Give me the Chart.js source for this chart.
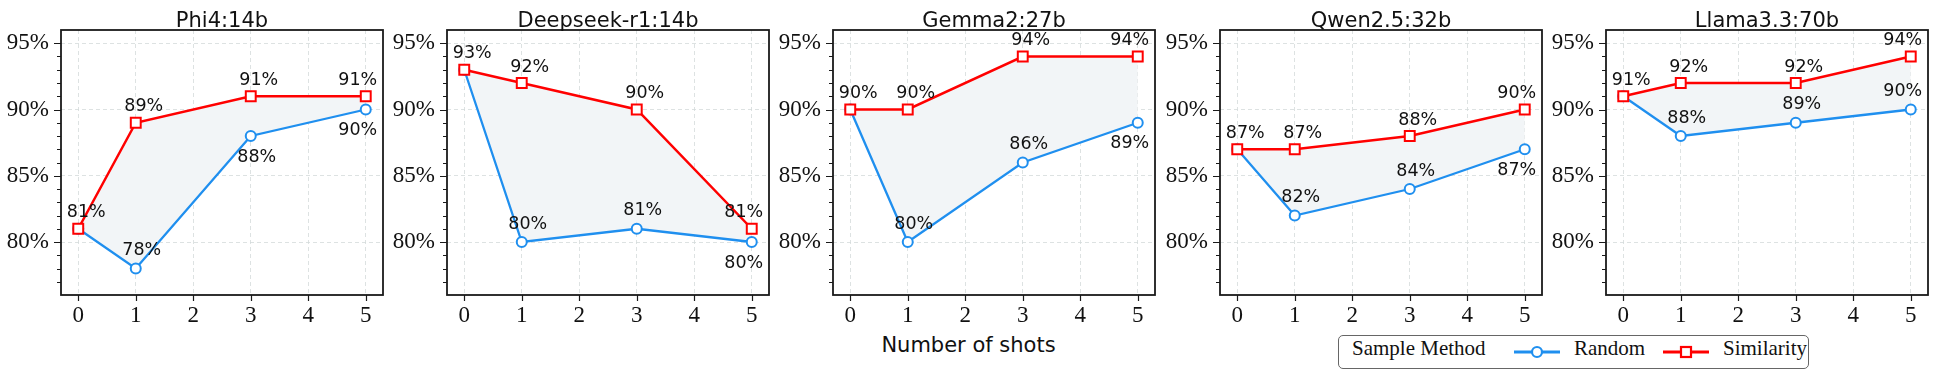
<!DOCTYPE html>
<html>
<head>
<meta charset="utf-8">
<script src="https://cdn.jsdelivr.net/npm/chart.js@4.4.1/dist/chart.umd.min.js"></script>
<style>
  body { margin: 0; background: #fff; width: 1937px; height: 380px; position: relative; overflow: hidden; }
  canvas.panel { position: absolute; top: 0; }
  #xtitle { position: absolute; left: 0; width: 1937px; top: 333px; text-align: center;
            font: 21px "DejaVu Sans"; line-height: 24px; color: #111; }
  #legend { position: absolute; left: 1338px; top: 335px; width: 469px; height: 32px;
            border: 1px solid #666; border-radius: 5px; background: #fff; }
  #legend span { position: absolute; top: 0; line-height: 32px; font: 21px "Liberation Serif"; color: #111; white-space: nowrap; }
  #legend svg { position: absolute; top: 9px; }
</style>
</head>
<body>
<div id="xtitle">Number of shots</div>
<div id="legend">
  <span style="left:13px">Sample Method</span>
  <svg style="left:175px" width="46" height="14"><line x1="0" y1="7" x2="46" y2="7" stroke="#1f8fef" stroke-width="3"/><circle cx="23" cy="7" r="5" fill="#fff" stroke="#1f8fef" stroke-width="2.2"/></svg>
  <span style="left:235px">Random</span>
  <svg style="left:324px" width="46" height="14"><line x1="0" y1="7" x2="46" y2="7" stroke="#ff0000" stroke-width="3"/><rect x="18" y="2" width="10" height="10" fill="#fff" stroke="#ff0000" stroke-width="2.2"/></svg>
  <span style="left:384px">Similarity</span>
</div>
<script>
const models = ['Phi4:14b', 'Deepseek-r1:14b', 'Gemma2:27b', 'Qwen2.5:32b', 'Llama3.3:70b'];
const shots = [0, 1, 3, 5];
const randomScores = [
    [81, 78, 88, 90],
    [93, 80, 81, 80],
    [90, 80, 86, 89],
    [87, 82, 84, 87],
    [91, 88, 89, 90],
];
const similarityScores = [
    [81, 89, 91, 91],
    [93, 92, 90, 81],
    [90, 90, 94, 94],
    [87, 87, 88, 90],
    [91, 92, 92, 94],
];
const xTicks = [0, 1, 2, 3, 4, 5];
const yTicks = [80, 85, 90, 95];
// which side of the point the Random label sits on
const randomLabelSide = [
    ['', 'up', 'down', 'down'],
    ['', 'up', 'up', 'down'],
    ['', 'up', 'up', 'down'],
    ['', 'up', 'up', 'down'],
    ['', 'up', 'up', 'up'],
];

const RED = '#ff0000';
const BLUE = '#1f8fef';
const plotLefts = [61, 447, 833, 1220, 1606];
const AXIS_W = 64;

const framePlugin = {
    id: 'frame',
    afterDraw(chart, args, opts) {
        const { ctx, chartArea: a, scales: { x, y } } = chart;
        ctx.save();
        ctx.strokeStyle = '#1a1a1a';
        ctx.lineWidth = 1.2;
        ctx.beginPath();
        for (let v = 77; v <= 95; v++) {
            const py = Math.round(y.getPixelForValue(v)) + 0.5;
            const len = yTicks.includes(v) ? 7 : 4;
            ctx.moveTo(a.left, py);
            ctx.lineTo(a.left - len, py);
        }
        xTicks.forEach((v) => {
            const px = Math.round(x.getPixelForValue(v)) + 0.5;
            ctx.moveTo(px, a.bottom);
            ctx.lineTo(px, a.bottom + 6);
        });
        ctx.stroke();
        ctx.lineWidth = 1.8;
        ctx.strokeRect(a.left, a.top, a.right - a.left, a.bottom - a.top);
        ctx.font = '21px "DejaVu Sans"';
        ctx.fillStyle = '#111';
        ctx.textAlign = 'center';
        ctx.textBaseline = 'alphabetic';
        ctx.fillText(opts.title, (a.left + a.right) / 2, 27);
        ctx.restore();
    },
};

const valueLabels = {
    id: 'valueLabels',
    afterDatasetsDraw(chart, args, opts) {
        const { ctx } = chart;
        ctx.save();
        ctx.font = '17.5px "DejaVu Sans"';
        ctx.fillStyle = '#111';
        ctx.textAlign = 'center';
        ctx.textBaseline = 'middle';
        const sim = chart.getDatasetMeta(0).data;
        const rnd = chart.getDatasetMeta(1).data;
        const simVals = chart.data.datasets[0].data;
        const rndVals = chart.data.datasets[1].data;
        const last = sim.length - 1;
        sim.forEach((p, i) => {
            const dx = i === last ? -8 : 8;
            ctx.fillText(simVals[i].y + '%', p.x + dx, p.y - 16);
        });
        rnd.forEach((p, i) => {
            const side = opts.sides[i];
            if (!side) return;
            const dx = i === last ? -8 : 6;
            const dy = side === 'up' ? -18 : 21;
            ctx.fillText(rndVals[i].y + '%', p.x + dx, p.y + dy);
        });
        ctx.restore();
    },
};

models.forEach((name, k) => {
    const canvas = document.createElement('canvas');
    canvas.className = 'panel';
    canvas.width = AXIS_W + 322 + 14;
    canvas.height = 330;
    canvas.style.left = (plotLefts[k] - AXIS_W) + 'px';
    document.body.appendChild(canvas);

    new Chart(canvas, {
        type: 'line',
        data: {
            datasets: [{
                label: 'Similarity',
                data: shots.map((s, j) => ({ x: s, y: similarityScores[k][j] })),
                borderColor: RED,
                borderWidth: 2.5,
                pointStyle: 'rect',
                pointRadius: 7,
                pointBackgroundColor: '#fff',
                pointBorderColor: RED,
                pointBorderWidth: 2,
                fill: '+1',
                backgroundColor: '#f2f5f7',
                tension: 0,
            }, {
                label: 'Random',
                data: shots.map((s, j) => ({ x: s, y: randomScores[k][j] })),
                borderColor: BLUE,
                borderWidth: 2.3,
                pointStyle: 'circle',
                pointRadius: 5,
                pointBackgroundColor: '#fff',
                pointBorderColor: BLUE,
                pointBorderWidth: 2,
                fill: false,
                tension: 0,
            }],
        },
        options: {
            responsive: false,
            animation: false,
            devicePixelRatio: 1,
            layout: { padding: { top: 30, right: 14, left: 0, bottom: 0 } },
            plugins: {
                legend: { display: false },
                tooltip: { enabled: false },
                filler: { drawTime: 'beforeDatasetsDraw' },
                frame: { title: name },
                valueLabels: { sides: randomLabelSide[k] },
            },
            scales: {
                x: {
                    type: 'linear',
                    min: -0.3,
                    max: 5.3,
                    afterFit: (s) => { s.height = 35; },
                    afterBuildTicks: (s) => { s.ticks = xTicks.map((v) => ({ value: v })); },
                    ticks: { padding: 7, font: { family: 'Liberation Serif', size: 23 }, color: '#111', autoSkip: false, maxRotation: 0 },
                    grid: { color: '#d4dada', lineWidth: 0.8, drawTicks: false },
                    border: { display: false, dash: [4, 3] },
                },
                y: {
                    min: 76,
                    max: 96,
                    afterFit: (s) => { s.width = AXIS_W; },
                    ticks: {
                        stepSize: 1,
                        autoSkip: false,
                        padding: 12,
                        font: { family: 'Liberation Serif', size: 23 },
                        color: '#111',
                        callback: (v) => (yTicks.includes(v) ? v + '%' : ''),
                    },
                    grid: {
                        lineWidth: 0.8,
                        drawTicks: false,
                        color: (c) => (c.tick && yTicks.includes(c.tick.value) ? '#d4dada' : 'rgba(0,0,0,0)'),
                    },
                    border: { display: false, dash: [4, 3] },
                },
            },
        },
        plugins: [framePlugin, valueLabels],
    });
});
</script>
</body>
</html>
